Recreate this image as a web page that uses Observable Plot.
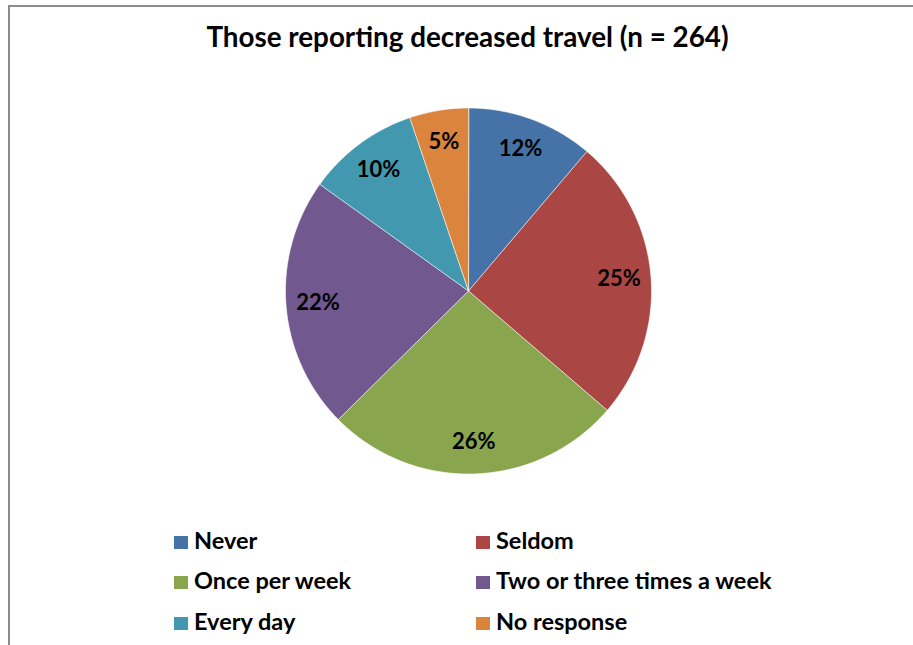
<!DOCTYPE html>
<html><head><meta charset="utf-8">
<script src="https://cdn.jsdelivr.net/npm/d3@7"></script>
<script src="https://cdn.jsdelivr.net/npm/@observablehq/plot@0.6"></script>
<style>
body{margin:0;background:#fff;font-family:Lato,"Open Sans",sans-serif;}
#frame{position:relative;width:913px;height:645px;overflow:hidden;background:#fff;}
#border{position:absolute;left:8px;top:5px;width:940px;height:700px;border-left:2px solid #8c8c8c;border-top:2px solid #8c8c8c;box-sizing:border-box;pointer-events:none;}
#title{position:relative;height:70px;}
#title span{position:absolute;left:0;width:935px;top:20px;text-align:center;font-weight:bold;font-size:27.8px;color:#000;}
#chart{position:relative;height:440px;}
#chart svg{display:block;}
#legend{position:relative;height:135px;}
.item{position:absolute;font-weight:bold;font-size:23.5px;color:#000;line-height:1;white-space:nowrap;}
.sw{position:absolute;width:14px;height:13px;}
</style></head>
<body>
<div id="frame">
  <div id="border"></div>
  <div id="title"><span>Those reporting decreased travel (n = 264)</span></div>
  <div id="chart"></div>
  <div id="legend"></div>
</div>
<script>
const categories = ["Never", "Seldom", "Once per week", "Two or three times a week", "Every day", "No response"];
// slice shares (%)
const shares = [11.2, 25.1, 26.3, 22.3, 9.9, 5.2];
// data-label texts as printed on the slices
const labelTexts = ["12%", "25%", "26%", "22%", "10%", "5%"];
const colors = ["#4572A7", "#AA4643", "#89A54E", "#71588F", "#4198AF", "#DB843D"];

const pie = d3.pie().sort(null).value(d => d.share);
const arcs = pie(categories.map((c, i) => ({key: c, share: shares[i], label: labelTexts[i]})));

// slice outlines in data coordinates (unit circle), angle clockwise from 12 o'clock
const slicePts = [];
for (const a of arcs) {
  slicePts.push({key: a.data.key, x: 0, y: 0});
  const n = Math.max(4, Math.ceil((a.endAngle - a.startAngle) / 0.01));
  for (let k = 0; k <= n; k++) {
    const t = a.startAngle + (a.endAngle - a.startAngle) * k / n;
    slicePts.push({key: a.data.key, x: Math.sin(t), y: Math.cos(t)});
  }
}
const labelR = 0.825;
const labels = arcs.map(a => {
  const m = (a.startAngle + a.endAngle) / 2;
  return {key: a.data.key, x: labelR * Math.sin(m), y: labelR * Math.cos(m), text: a.data.label};
});

const H = 440, cy = 290.5 - 70, R = 183, cx = 468;
const plot = Plot.plot({
  width: 913, height: H,
  marginLeft: cx - R, marginRight: 913 - (cx + R),
  marginTop: cy - R, marginBottom: H - (cy + R),
  x: {domain: [-1, 1], axis: null},
  y: {domain: [-1, 1], axis: null},
  color: {type: "ordinal", domain: categories, range: colors},
  style: {background: "transparent", fontFamily: "Lato, sans-serif"},
  marks: [
    Plot.line(slicePts, {x: "x", y: "y", z: "key", fill: "key", stroke: "#ffffff", strokeWidth: 1, strokeOpacity: 0.6, curve: "linear-closed"}),
    Plot.text(labels, {x: "x", y: "y", text: "text", fill: "#000", fontSize: 22, fontWeight: "bold"})
  ]
});
document.getElementById("chart").appendChild(plot);

// legend: 2 columns x 3 rows
const legend = document.getElementById("legend");
const colX = [174, 476], textX = [194, 496], rowY = [32, 72, 113];
categories.forEach((c, i) => {
  const col = i % 2, row = Math.floor(i / 2);
  const sw = document.createElement("div");
  sw.className = "sw";
  sw.style.left = colX[col] + "px";
  sw.style.top = (rowY[row] - 6) + "px";
  sw.style.background = colors[i];
  legend.appendChild(sw);
  const t = document.createElement("div");
  t.className = "item";
  t.textContent = c;
  t.style.left = textX[col] + "px";
  t.style.top = (rowY[row] - 13) + "px";
  legend.appendChild(t);
});
</script>
</body></html>
